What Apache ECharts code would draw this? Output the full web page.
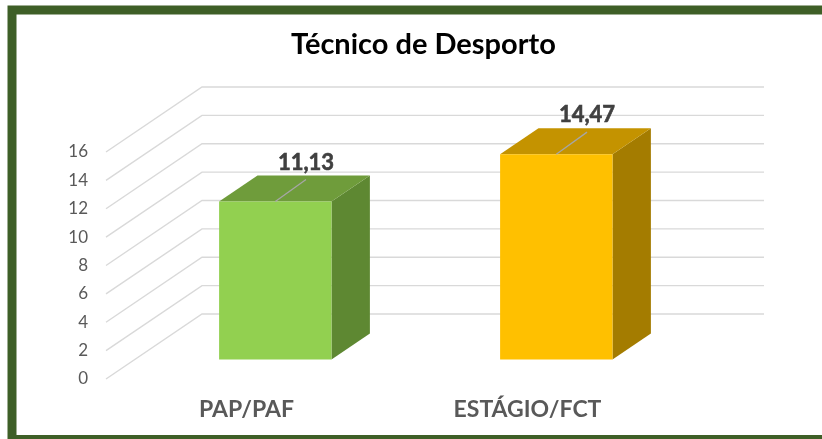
<!DOCTYPE html>
<html>
<head>
<meta charset="utf-8">
<script src="https://cdn.jsdelivr.net/npm/echarts@6/dist/echarts.min.js"></script>
<style>
  html, body { margin: 0; padding: 0; background: #ffffff; }
  #chart { width: 822px; height: 439px; }
</style>
</head>
<body>
<div id="chart"></div>
<script>
// ---- data ----
const titleText = 'Técnico de Desporto';
const categories = ['PAP/PAF', 'ESTÁGIO/FCT'];
const values = [11.13, 14.47];
const yTicks = [0, 2, 4, 6, 8, 10, 12, 14, 16];

// ---- styles ----
const frontColors = ['#92D050', '#FFC000'];
const topColors = ['#6F9C3B', '#C49300'];
const sideColors = ['#5E8832', '#A47C00'];
const DEPTH = [96, -65];          // full floor depth vector (px)
const FRONT_DEPTH = 0.3;          // bar front face depth fraction
const BAR_DEPTH = 0.4;            // bar depth fraction
const BAR_WIDTH_RATIO = 0.4;      // bar width relative to band
const FONT = 'Lato, "Noto Sans", sans-serif';

function fmt(v) { return v.toFixed(2).replace('.', ','); }

function renderGrid(params, api) {
  const v = api.value(1);
  const cs = params.coordSys;
  const y = api.coord([0, v])[1];
  const xl = cs.x, xr = cs.x + cs.width;
  return {
    type: 'polyline',
    shape: { points: [[xl, y], [xl + DEPTH[0], y + DEPTH[1]], [xr + DEPTH[0], y + DEPTH[1]]] },
    style: { stroke: '#d9d9d9', lineWidth: 1.4, fill: null }
  };
}

function renderBar(params, api) {
  const i = api.value(0), v = api.value(1);
  const base = api.coord([i, 0]);
  const top = api.coord([i, v]);
  const band = api.size([1, 0])[0];
  const w = band * BAR_WIDTH_RATIO;
  const fx = DEPTH[0] * FRONT_DEPTH, fy = DEPTH[1] * FRONT_DEPTH;
  const dx = DEPTH[0] * BAR_DEPTH, dy = DEPTH[1] * BAR_DEPTH;
  const x0 = base[0] - w / 2 + fx, x1 = x0 + w;
  const yb = base[1] + fy, yt = top[1] + fy;
  const cx = (x0 + x1) / 2;
  const lx = cx + dx * 0.8, ly = yt + dy * 0.85;
  return {
    type: 'group',
    children: [
      { type: 'polygon', shape: { points: [[x1, yt], [x1 + dx, yt + dy], [x1 + dx, yb + dy], [x1, yb]] },
        style: { fill: sideColors[i] } },
      { type: 'polygon', shape: { points: [[x0, yt], [x1, yt], [x1 + dx, yt + dy], [x0 + dx, yt + dy]] },
        style: { fill: topColors[i] } },
      { type: 'rect', shape: { x: x0, y: yt, width: w, height: yb - yt },
        style: { fill: frontColors[i] } },
      { type: 'line', shape: { x1: cx, y1: yt, x2: lx, y2: ly },
        style: { stroke: '#a6a6a6', lineWidth: 1.3 } },
      { type: 'text', x: lx, y: ly - 17,
        style: { text: fmt(v), fill: '#404040', fontFamily: FONT, fontWeight: 'bold', fontSize: 22,
                 stroke: '#404040', lineWidth: 0.6,
                 align: 'center', verticalAlign: 'middle' } }
    ]
  };
}

const chart = echarts.init(document.getElementById('chart'), null, { renderer: 'canvas' });
chart.setOption({
  backgroundColor: '#ffffff',
  animation: false,
  title: {
    text: titleText,
    left: 286,
    top: 25,
    textStyle: { fontFamily: FONT, fontWeight: 'bold', fontSize: 29, color: '#000000' }
  },
  graphic: [{
    type: 'rect',
    shape: { x: 12, y: 10, width: 830, height: 429.5 },
    style: { fill: null, stroke: '#3E5F27', lineWidth: 9 },
    z: 100
  }],
  grid: { left: 106, right: 154, top: 152, bottom: 60, containLabel: false },
  xAxis: {
    type: 'category',
    data: categories,
    axisLine: { show: false },
    axisTick: { show: false },
    axisLabel: { margin: 19, color: '#595959', fontFamily: FONT, fontWeight: 'bold', fontSize: 23 }
  },
  yAxis: {
    type: 'value',
    min: 0, max: 16, interval: 2,
    axisLine: { show: false },
    axisTick: { show: false },
    splitLine: { show: false },
    axisLabel: { margin: 18, color: '#595959', fontFamily: FONT, fontSize: 17 }
  },
  series: [
    {
      type: 'custom',
      renderItem: renderGrid,
      data: yTicks.map(v => [0, v]),
      z: 1,
      silent: true
    },
    {
      type: 'custom',
      renderItem: renderBar,
      data: values.map((v, i) => [i, v]),
      z: 2,
      clip: false
    }
  ]
});
</script>
</body>
</html>
